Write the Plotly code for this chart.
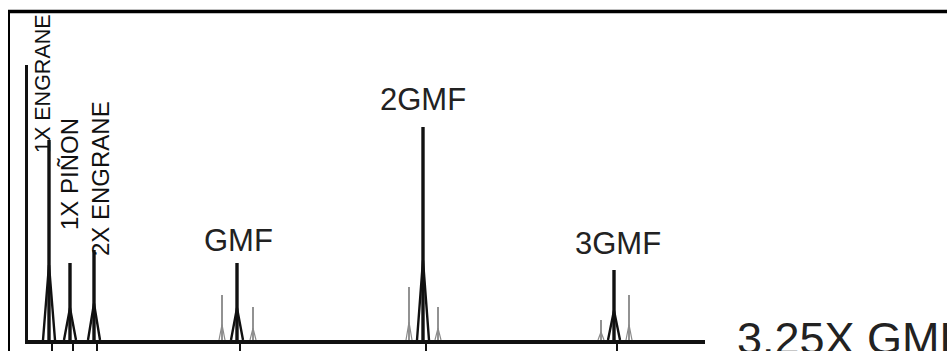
import plotly.graph_objects as go

# ---- data (arbitrary frequency / amplitude units) ----
main_labels = ["1X ENGRANE", "1X PIÑON", "2X ENGRANE", "GMF", "2GMF", "3GMF"]
main_freq = [21, 42, 66, 209, 395, 586]
main_amp = [200, 77, 90, 77, 213, 70]

side_freq = [194, 225, 381, 410, 573, 601]
side_amp = [45, 33, 53, 33, 20, 45]

axis_label = "3.25X GMF"

# ---- geometry / style ----
W, H = 947, 351
ML, MT, MR, MB = 28, 65, 242, 11
X_MAX, Y_MAX = 677, 275
FONT = "Liberation Sans, Arial, Helvetica, sans-serif"


def spikes(freqs, amps, half_w, frac, add):
    xs, ys, lx, ly = [], [], [], []
    for f, a in zip(freqs, amps):
        xs += [f, f, None]
        ys += [0, a, None]
        t = a * frac + add
        lx += [f - half_w, f, f + half_w, None]
        ly += [0, t, 0, None]
    return xs, ys, lx, ly


fig = go.Figure()

sx, sy, slx, sly = spikes(side_freq, side_amp, 3, 0.3, 2)
fig.add_trace(go.Scatter(x=sx, y=sy, mode="lines", line=dict(color="#777777", width=1.6), hoverinfo="skip"))
fig.add_trace(go.Scatter(x=slx, y=sly, mode="lines", line=dict(color="#8a8a8a", width=1.2), hoverinfo="skip"))

mx, my, mlx, mly = spikes(main_freq, main_amp, 6, 0.35, 5)
fig.add_trace(go.Scatter(x=mx, y=my, mode="lines", line=dict(color="#111111", width=3.4), hoverinfo="skip"))
fig.add_trace(go.Scatter(x=mlx, y=mly, mode="lines", line=dict(color="#111111", width=2.4), hoverinfo="skip"))

# labels
rot_pos = {"1X ENGRANE": (15, 256, 21.5), "1X PIÑON": (41, 166, 24), "2X ENGRANE": (72, 161, 24)}
hor_pos = {"GMF": (210, 100), "2GMF": (395, 241), "3GMF": (590, 97)}
for lab in main_labels:
    if lab in rot_pos:
        x, y, fs = rot_pos[lab]
        fig.add_annotation(x=x, y=y, text=lab, textangle=-90, showarrow=False,
                           xanchor="center", yanchor="middle",
                           font=dict(family=FONT, size=fs, color="#111111"))
    else:
        x, y = hor_pos[lab]
        fig.add_annotation(x=x, y=y, text=lab, showarrow=False,
                           xanchor="center", yanchor="middle",
                           font=dict(family=FONT, size=31, color="#222222"))

pw, ph = W - ML - MR, H - MT - MB


def px(xp):
    return (xp - ML) / pw


def py(yp):
    return (H - MB - yp) / ph


fig.add_annotation(xref="paper", yref="paper", x=px(735), y=py(338), text=axis_label, showarrow=False,
                   xanchor="left", yanchor="middle",
                   font=dict(family=FONT, size=45, color="#222222"))

# frame (top and left border of the picture)
fig.add_shape(type="line", xref="paper", yref="paper", x0=px(8), x1=px(W + 2), y0=py(11.5), y1=py(11.5),
              line=dict(color="black", width=3.5))
fig.add_shape(type="line", xref="paper", yref="paper", x0=px(9), x1=px(9), y0=py(11.5), y1=py(H + 2),
              line=dict(color="black", width=2))

fig.update_layout(
    width=W, height=H,
    margin=dict(l=ML, r=MR, t=MT, b=MB, autoexpand=False),
    paper_bgcolor="white", plot_bgcolor="white",
    showlegend=False, hovermode=False,
    xaxis=dict(range=[0, X_MAX], showgrid=False, zeroline=False, showline=True, linecolor="#111111",
               linewidth=4, tickmode="array", tickvals=[f + 3 for f in main_freq], ticks="outside",
               ticklen=8, tickwidth=2, tickcolor="#111111", showticklabels=False, fixedrange=True,
               automargin=False),
    yaxis=dict(range=[0, Y_MAX], showgrid=False, zeroline=False, showline=True, linecolor="#111111",
               linewidth=3, ticks="", showticklabels=False, fixedrange=True, automargin=False),
)

fig.write_html("out.html", config={"displayModeBar": False})
